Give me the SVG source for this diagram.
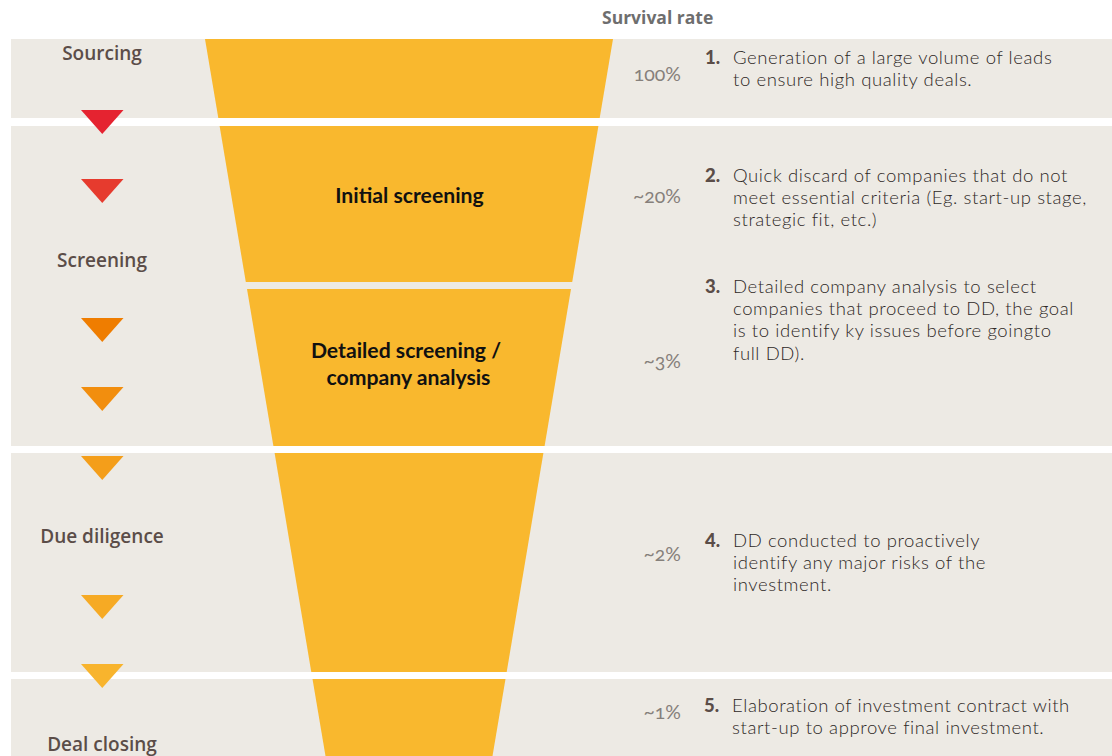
<svg xmlns="http://www.w3.org/2000/svg" width="1112" height="756" viewBox="0 0 1112 756">
<style>
.band{fill:#EDEAE4}
.fun{fill:#F9B82E}
.stage{font-family:"Open Sans","Liberation Sans",sans-serif;font-weight:600;font-size:19px;fill:#5B4D48;text-anchor:middle}
.pct{font-family:Lato,"Liberation Sans",sans-serif;font-size:19.5px;font-weight:400;fill:#86807B;text-anchor:end;font-variant-numeric:oldstyle-nums}
.desc{font-family:Lato,"Liberation Sans",sans-serif;font-size:18.5px;font-weight:300;letter-spacing:0.6px;fill:#2E2826}
.num{font-family:Lato,"Liberation Sans",sans-serif;font-size:18.5px;font-weight:900;fill:#5B4D48}
.flab{font-family:Lato,"Liberation Sans",sans-serif;font-size:21.2px;font-weight:700;fill:#111;text-anchor:middle}
.hdr{font-family:"Open Sans","Liberation Sans",sans-serif;font-size:17.5px;font-weight:700;fill:#6E6E6E}
</style>
<rect width="1112" height="756" fill="#FFFFFF"/>
<g id="bands">
<rect class="band" x="11" y="39" width="1101" height="79"/>
<rect class="band" x="11" y="126" width="1101" height="320"/>
<rect class="band" x="11" y="453" width="1101" height="219"/>
<rect class="band" x="11" y="679" width="1101" height="77"/>
</g>
<g id="funnel">
<polygon class="fun" points="205,39 613,39 599.7,118 218.3,118"/>
<polygon class="fun" points="219.6,126 598.4,126 572.2,282 245.8,282"/>
<polygon class="fun" points="247,289 571,289 544.6,446 273.4,446"/>
<polygon class="fun" points="274.6,453 543.4,453 506.7,672 311.3,672"/>
<polygon class="fun" points="312.5,679 505.5,679 492.5,756 325.5,756"/>
</g>
<g id="connectors">
<polygon points="81,110 123.5,110 102.25,134" fill="#E52330"/>
<polygon points="81,179 123.5,179 102.25,203" fill="#E63B2E"/>
<polygon points="81,318 123.5,318 102.25,342" fill="#EF7D00"/>
<polygon points="81,387 123.5,387 102.25,411" fill="#F28E0E"/>
<polygon points="81,456 123.5,456 102.25,480" fill="#F49E1A"/>
<polygon points="81,595 123.5,595 102.25,619" fill="#F6AA24"/>
<polygon points="81,664 123.5,664 102.25,688" fill="#F8B42D"/>
</g>
<text class="hdr" x="602" y="24">Survival rate</text>
<g id="sourcing">
<text class="stage" x="102" y="60">Sourcing</text>
<text class="pct" x="681" y="81">100%</text>
<text class="num" x="705" y="64">1.</text>
<text class="desc" x="733" y="64">Generation of a large volume of leads</text>
<text class="desc" x="733" y="86">to ensure high quality deals.</text>
</g>
<g id="screening">
<text class="stage" x="102" y="267">Screening</text>
</g>
<g id="initial-screening">
<text class="flab" x="409.5" y="203">Initial screening</text>
<text class="pct" x="681" y="203">~20%</text>
<text class="num" x="705" y="182">2.</text>
<text class="desc" x="733" y="182">Quick discard of companies that do not</text>
<text class="desc" x="733" y="204">meet essential criteria (Eg. start-up stage,</text>
<text class="desc" x="733" y="226">strategic fit, etc.)</text>
</g>
<g id="detailed-screening">
<text class="flab" x="406" y="358">Detailed screening /</text>
<text class="flab" x="408.5" y="385">company analysis</text>
<text class="pct" x="681" y="368">~3%</text>
<text class="num" x="705" y="293">3.</text>
<text class="desc" x="733" y="293">Detailed company analysis to select</text>
<text class="desc" x="733" y="315">companies that proceed to DD, the goal</text>
<text class="desc" x="733" y="337">is to identify ky issues before goingto</text>
<text class="desc" x="733" y="360">full DD).</text>
</g>
<g id="due-diligence">
<text class="stage" x="102" y="543">Due diligence</text>
<text class="pct" x="681" y="561">~2%</text>
<text class="num" x="705" y="547">4.</text>
<text class="desc" x="733" y="547">DD conducted to proactively</text>
<text class="desc" x="733" y="569">identify any major risks of the</text>
<text class="desc" x="733" y="591">investment.</text>
</g>
<g id="deal-closing">
<text class="stage" x="102" y="751">Deal closing</text>
<text class="pct" x="681" y="719">~1%</text>
<text class="num" x="704" y="712">5.</text>
<text class="desc" x="732" y="712">Elaboration of investment contract with</text>
<text class="desc" x="732" y="734">start-up to approve final investment.</text>
</g>
</svg>
